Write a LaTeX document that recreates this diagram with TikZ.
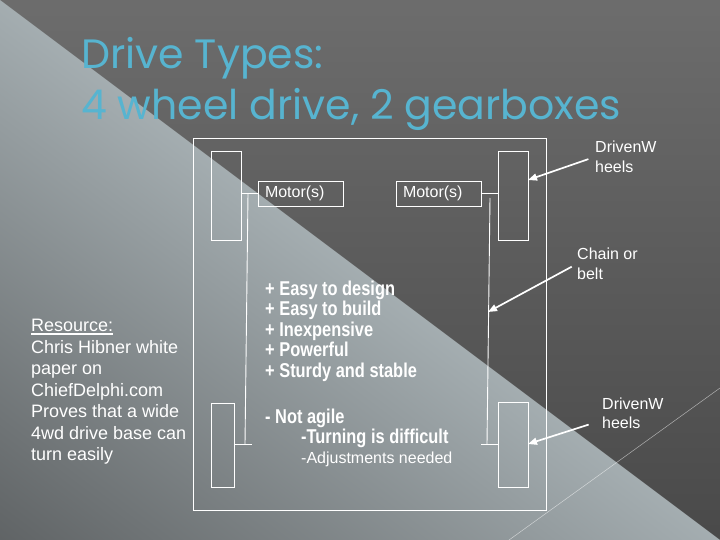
\documentclass[tikz,border=0pt]{standalone}
\usepackage{fontspec}
\setmainfont{Liberation Sans}
\newfontfamily\titlefont{Poppins}
\newfontfamily\narrowfont[FakeStretch=0.82]{Liberation Sans}
\usetikzlibrary{arrows.meta,calc,positioning}
\definecolor{fondoalto}{HTML}{7E7E7E}
\definecolor{fondobajo}{HTML}{383838}
\definecolor{claro}{HTML}{C6D2D6}
\definecolor{medio}{HTML}{939EA2}
\definecolor{oscuro}{HTML}{3E3F40}
\definecolor{titulo}{HTML}{57B4D0}
\newcommand\subrayar[1]{\leavevmode\vtop{\hbox{#1}\kern1.6pt\hrule height 1.2pt}}
\tikzset{
  rueda/.style={draw=white,line width=0.8pt,inner sep=0pt},
  motor/.style={draw=white,line width=0.8pt,minimum height=25pt,text width=71pt,inner xsep=7pt,inner ysep=0pt,align=left,text=white,font=\fontsize{16}{19}\selectfont},
  cadena/.style={draw=white,line width=0.9pt},
  flecha/.style={draw=white,line width=1.7pt,-{Triangle[length=9pt,width=7pt]}},
  etiqueta/.style={anchor=north west,text=white,align=left,inner sep=0pt,font=\fontsize{16}{19.5}\selectfont},
  lista/.style={anchor=north west,text=white,align=left,inner sep=0pt},
}

\begin{document}
\begin{tikzpicture}[x=1pt,y=-1pt]
\useasboundingbox (0,0) rectangle (720,540);
\clip (0,0) rectangle (720,540);
% fondo
\shade[top color=fondoalto,bottom color=fondobajo] (0,-270) rectangle (720,810);
\begin{scope}
\clip (0,0) -- (720,540) -- (0,540) -- cycle;
\begin{scope}[transform canvas={shift={(0pt,-540pt)},rotate=-36.87}]
\shade[top color=claro,middle color=medio,bottom color=oscuro] (-900pt,-216pt) rectangle (900pt,648pt);
\end{scope}
\end{scope}
\draw[white,opacity=0.55,line width=0.5pt] (509,540) -- (720,388);

% titulo
\node[lista,text=titulo,font=\titlefont\fontsize{41}{51}\selectfont] (titulo) at (81,37) {Drive Types:\\4 wheel drive, 2 gearboxes};

% chasis y ruedas
\node[draw=white,line width=0.8pt,minimum width=353pt,minimum height=372pt,inner sep=0pt] (chasis) at (369.5,324) {};
\node[rueda,minimum width=30pt,minimum height=89pt] (ruedaSI) at (226,195.5) {};
\node[rueda,minimum width=30pt,minimum height=89pt] (ruedaSD) at (513,195.5) {};
\node[rueda,minimum width=23pt,minimum height=84pt] (ruedaII) at (222.5,445) {};
\node[rueda,minimum width=30pt,minimum height=85pt] (ruedaID) at (513,444.5) {};
\node[motor] (motorI) at (300.5,193.5) {Motor(s)};
\node[motor] (motorD) at (438.5,193.5) {Motor(s)};

% cadenas
\coordinate (cadI0) at (248,193.5);
\coordinate (cadI1) at (245,444);
\coordinate (cadI2) at (252,444);
\coordinate (cadD0) at (490,198);
\coordinate (cadD1) at (487,444);
\coordinate (cadD2) at (481,444);
\draw[cadena] (ruedaSI.east |- motorI.west) -- (motorI.west);
\draw[cadena] (cadI0) -- (cadI1);
\draw[cadena] (ruedaII.east |- cadI1) -- (cadI2);
\draw[cadena] (motorD.east) -- (motorD.east -| ruedaSD.west);
\draw[cadena] (cadD0) -- (cadD1);
\draw[cadena] (cadD2) -- (ruedaID.west |- cadD2);

% etiquetas
\node[etiqueta] (lblRuedaS) at (595,141) {DrivenW\\heels};
\node[etiqueta] (lblCadena) at (577,248) {Chain or\\belt};
\node[etiqueta] (lblRuedaI) at (602,397.5) {DrivenW\\heels};
\coordinate (puntaRuedaS) at (528,180);
\coordinate (puntaCadena) at (488,312);
\coordinate (puntaRuedaI) at (528,444);
\draw[flecha,shorten <=7pt] (lblRuedaS.west) -- (puntaRuedaS);
\draw[flecha,shorten <=6pt] (lblCadena.west) -- (puntaCadena);
\draw[flecha,shorten <=14pt] ([yshift=-7pt]lblRuedaI.west) -- (puntaRuedaI);

% texto
\node[lista,font=\narrowfont\bfseries\fontsize{20}{20.5}\selectfont] (ventajas) at (265,280.5)
  {+ Easy to design\\+ Easy to build\\+ Inexpensive\\+ Powerful\\+ Sturdy and stable};
\node[lista,font=\fontsize{20}{20}\selectfont] (desventajas) at (265,408.5)
  {{\narrowfont\bfseries - Not agile}\\\hspace*{36pt}{\narrowfont\bfseries -Turning is difficult}\\\hspace*{36pt}{\fontsize{16}{20}\selectfont -Adjustments needed}};
\node[lista,font=\fontsize{18}{21.5}\selectfont] (recurso) at (31,319)
  {\subrayar{Resource:}\\Chris Hibner white\\paper on\\ChiefDelphi.com\\Proves that a wide\\4wd drive base can\\turn easily};
\end{tikzpicture}
\end{document}
